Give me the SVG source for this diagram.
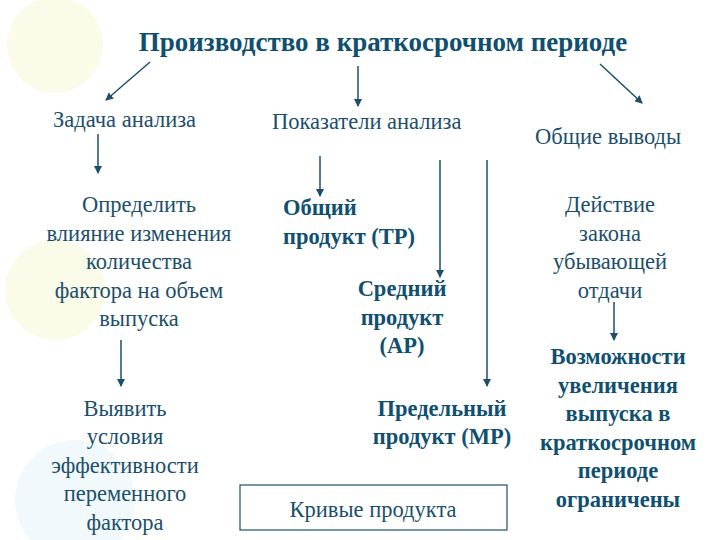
<svg xmlns="http://www.w3.org/2000/svg" width="720" height="540" viewBox="0 0 720 540" font-family="'Liberation Serif', 'Times New Roman', Tinos, 'DejaVu Serif', serif">
<style>
text{font-family:"Liberation Serif","Times New Roman",Tinos,"DejaVu Serif",serif;fill:#1b4f6b;font-size:22.5px}
.b{font-weight:bold;fill:#0f4f70}
.t{font-size:27px;font-weight:bold;fill:#0f4f70}
.c{text-anchor:middle}
line{stroke:#1b4f6b;stroke-width:1.5;marker-end:url(#a)}
</style>
<defs><marker id="a" markerWidth="8" markerHeight="8" refX="7" refY="4" orient="auto" markerUnits="userSpaceOnUse"><path d="M0,0L8,4L0,8z" fill="#1b4f6b"/></marker></defs>
<rect width="720" height="540" fill="#fff"/>
<g opacity="0.35">
<circle cx="55" cy="45" r="48" fill="#f3f6c0"/>
<circle cx="55" cy="290" r="50" fill="#f3f6c0"/>
<circle cx="75" cy="500" r="60" fill="#d8eef8"/>
</g>
<g id="title"><text class="t c" x="383" y="51">Производство в краткосрочном периоде</text></g>
<g id="task"><text x="53" y="127">Задача анализа</text></g>
<g id="indicators"><text x="272" y="129">Показатели анализа</text></g>
<g id="conclusions"><text x="535" y="144">Общие выводы</text></g>
<g id="determine"><text class="c" x="139" y="212">Определить</text><text class="c" x="139" y="241">влияние изменения</text><text class="c" x="139" y="269">количества</text><text class="c" x="139" y="298">фактора на объем</text><text class="c" x="139" y="326">выпуска</text></g>
<g id="reveal"><text class="c" x="125" y="416">Выявить</text><text class="c" x="125" y="444">условия</text><text class="c" x="125" y="473">эффективности</text><text class="c" x="125" y="501">переменного</text><text class="c" x="125" y="530">фактора</text></g>
<g id="tp"><text class="b" x="283" y="215">Общий</text><text class="b" x="283" y="244">продукт (ТР)</text></g>
<g id="ap"><text class="b c" x="402" y="296">Средний</text><text class="b c" x="402" y="325">продукт</text><text class="b c" x="402" y="353">(АР)</text></g>
<g id="mp"><text class="b c" x="442" y="416">Предельный</text><text class="b c" x="442" y="444">продукт (МР)</text></g>
<g id="law"><text class="c" x="610" y="212">Действие</text><text class="c" x="610" y="241">закона</text><text class="c" x="610" y="269">убывающей</text><text class="c" x="610" y="298">отдачи</text></g>
<g id="possib"><text class="b c" x="618" y="364">Возможности</text><text class="b c" x="618" y="393">увеличения</text><text class="b c" x="618" y="421">выпуска в</text><text class="b c" x="618" y="450">краткосрочном</text><text class="b c" x="618" y="478">периоде</text><text class="b c" x="618" y="507">ограничены</text></g>
<g id="curves"><rect x="240" y="485" width="267" height="45" fill="none" stroke="#1b4f6b" stroke-width="1.2"/><text class="c" x="373" y="517">Кривые продукта</text></g>
<g id="connectors">
<line x1="150" y1="62" x2="106" y2="100"/>
<line x1="358" y1="66" x2="358" y2="106"/>
<line x1="600" y1="64" x2="642" y2="103"/>
<line x1="98" y1="134" x2="98" y2="173"/>
<line x1="320" y1="156" x2="320" y2="196"/>
<line x1="440" y1="160" x2="440" y2="277"/>
<line x1="487" y1="160" x2="487" y2="386"/>
<line x1="121" y1="340" x2="121" y2="386"/>
<line x1="614" y1="302" x2="614" y2="340"/>
</g>
</svg>
